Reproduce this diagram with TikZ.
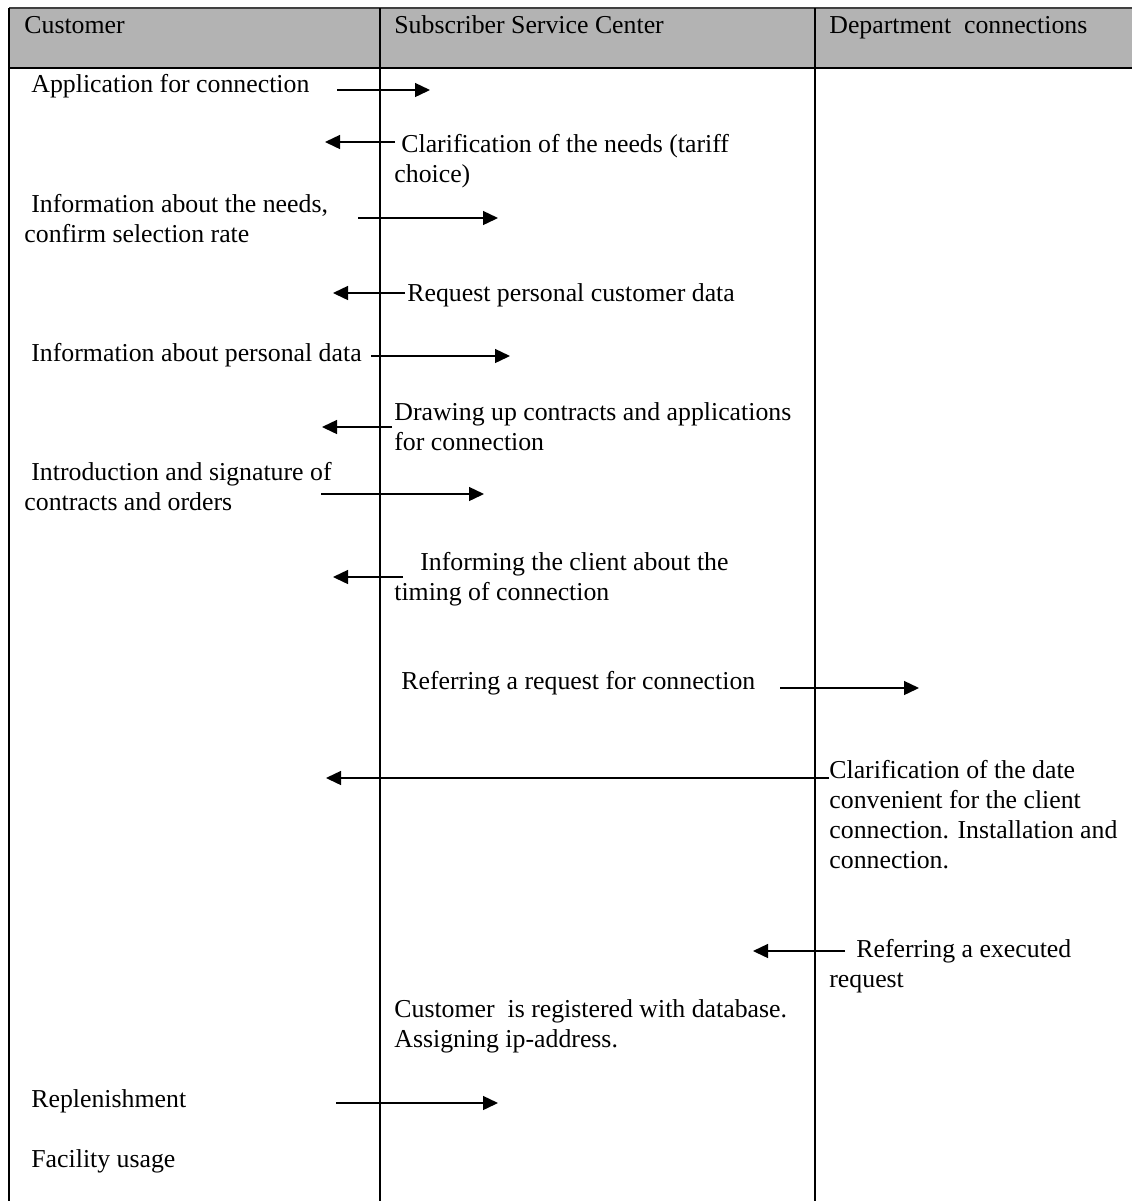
\documentclass[tikz,border=0pt]{standalone}
\usepackage{fontspec}
\setmainfont{Liberation Serif}
\usetikzlibrary{arrows.meta}
\definecolor{hdrgray}{RGB}{179,179,179}
\begin{document}
\begin{tikzpicture}[x=0.5pt,y=-0.5pt,
  txt/.style={anchor=base west,inner sep=0pt,align=left,font=\fontsize{12.9}{15}\selectfont},
  msg/.style={line width=0.7pt,-{Triangle[length=7.5pt,width=7pt]}},
  rulel/.style={line width=1.35pt},
  topl/.style={line width=0.8pt,draw=black!75}]
\useasboundingbox (0,0) rectangle (1132,1201);
% header
\fill[hdrgray] (9,8) rectangle (1132,68);
\coordinate (tl) at (9,8);
\coordinate (tr) at (1132,8);
\coordinate (hl) at (9,68);
\coordinate (hr) at (1132,68);
\coordinate (bl) at (9,1201);
\coordinate (d1t) at (380,8);
\coordinate (d1b) at (380,1201);
\coordinate (d2t) at (815,8);
\coordinate (d2b) at (815,1201);
\draw[topl] (tl) -- (tr);
\draw[rulel] (hl) -- (hr);
\draw[rulel] (tl) -- (bl);
\draw[rulel] (d1t) -- (d1b);
\draw[rulel] (d2t) -- (d2b);
\node[txt] (h1) at (24,33) {Customer};
\node[txt] (h2) at (394,33) {Subscriber Service Center};
\node[txt] (h3) at (829,33) {Department\ \ connections};
% row 1
\node[txt] (t1) at (31,92) {Application for connection};
\coordinate (a1s) at (337,90); \coordinate (a1e) at (430,90);
\draw[msg] (a1s) -- (a1e);
% row 2
\node[txt] (t2) at (394,182) {\hspace{3.5pt}Clarification of the needs (tariff\\choice)};
\coordinate (a2s) at (395,142); \coordinate (a2e) at (325,142);
\draw[msg] (a2s) -- (a2e);
% row 3
\node[txt] (t3) at (24,242) {\hspace{3.5pt}Information about the needs,\\confirm selection rate};
\coordinate (a3s) at (358,218); \coordinate (a3e) at (498,218);
\draw[msg] (a3s) -- (a3e);
% row 4
\node[txt] (t4) at (407,301) {Request personal customer data};
\coordinate (a4s) at (405,293); \coordinate (a4e) at (333,293);
\draw[msg] (a4s) -- (a4e);
% row 5
\node[txt] (t5) at (31,361) {Information about personal data};
\coordinate (a5s) at (371,356); \coordinate (a5e) at (510,356);
\draw[msg] (a5s) -- (a5e);
% row 6
\node[txt] (t6) at (394,450) {Drawing up contracts and applications\\for connection};
\coordinate (a6s) at (392,427); \coordinate (a6e) at (322,427);
\draw[msg] (a6s) -- (a6e);
% row 7
\node[txt] (t7) at (24,510) {\hspace{3.5pt}Introduction and signature of\\contracts and orders};
\coordinate (a7s) at (321,494); \coordinate (a7e) at (484,494);
\draw[msg] (a7s) -- (a7e);
% row 8
\node[txt] (t8) at (394,600) {\hspace{13pt}Informing the client about the\\timing of connection};
\coordinate (a8s) at (403,577); \coordinate (a8e) at (333,577);
\draw[msg] (a8s) -- (a8e);
% row 9
\node[txt] (t9) at (401,689) {Referring a request for connection};
\coordinate (a9s) at (780,688); \coordinate (a9e) at (919,688);
\draw[msg] (a9s) -- (a9e);
% row 10
\node[txt] (t10) at (829,868) {Clarification of the date\\convenient for the client\\connection. Installation and\\connection.};
\coordinate (a10s) at (829,778); \coordinate (a10e) at (326,778);
\draw[msg] (a10s) -- (a10e);
% row 11
\node[txt] (t11) at (829,987) {\hspace{13.5pt}Referring a executed\\request};
\coordinate (a11s) at (845,951); \coordinate (a11e) at (753,951);
\draw[msg] (a11s) -- (a11e);
% row 12
\node[txt] (t12) at (394,1047) {Customer\ \ is registered with database.\\Assigning ip-address.};
% row 13
\node[txt] (t13) at (31,1107) {Replenishment};
\coordinate (a13s) at (336,1103); \coordinate (a13e) at (498,1103);
\draw[msg] (a13s) -- (a13e);
% row 14
\node[txt] (t14) at (31,1167) {Facility usage};
\end{tikzpicture}
\end{document}
